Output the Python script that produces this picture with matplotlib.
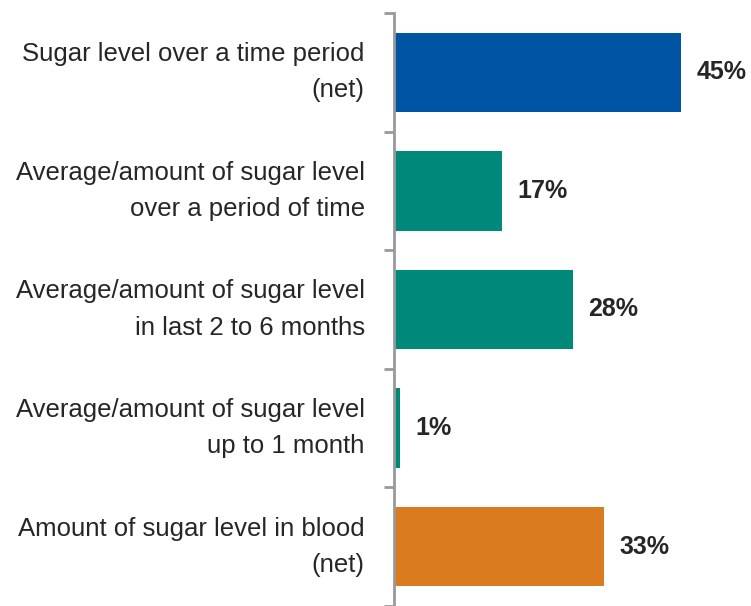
import matplotlib.pyplot as plt

plt.rcParams['font.family'] = ['Liberation Sans', 'DejaVu Sans']

categories = [
    "Sugar level over a time period\n(net)",
    "Average/amount of sugar level\nover a period of time",
    "Average/amount of sugar level\nin last 2 to 6 months",
    "Average/amount of sugar level\nup to 1 month",
    "Amount of sugar level in blood\n(net)",
]
values = [45, 17, 28, 1, 33]
colors = ["#0054A4", "#00897B", "#00897B", "#00897B", "#D97B1E"]

fig = plt.figure(figsize=(7.51, 6.06), dpi=100)
ax = fig.add_axes([394 / 751, 0.0, 357 / 751, 593 / 606])

pos = list(range(len(categories)))
ax.barh(pos, values, height=0.67, color=colors)

for p, v in zip(pos, values):
    ax.annotate(f"{v}%", (v, p), xytext=(11, 0), textcoords="offset points",
                ha="left", va="center", fontsize=18, fontweight="bold", color="#262626")

ax.set_xlim(0, 56)
ax.set_ylim(4.5, -0.5)

ax.set_yticks(pos)
ax.set_yticklabels(categories, fontsize=18.5, color="#262626", linespacing=1.65)
for lab in ax.get_yticklabels():
    lab.set_va("center")
ax.tick_params(axis="y", which="major", length=0, pad=21)
ax.set_yticks([i - 0.5 for i in range(len(categories) + 1)], minor=True)
ax.tick_params(axis="y", which="minor", length=7.5, width=2, color="#999999")

ax.set_xticks([])
for s in ["top", "right", "bottom"]:
    ax.spines[s].set_visible(False)
ax.spines["left"].set_color("#999999")
ax.spines["left"].set_linewidth(2)

fig.savefig("out.png", dpi=100)
